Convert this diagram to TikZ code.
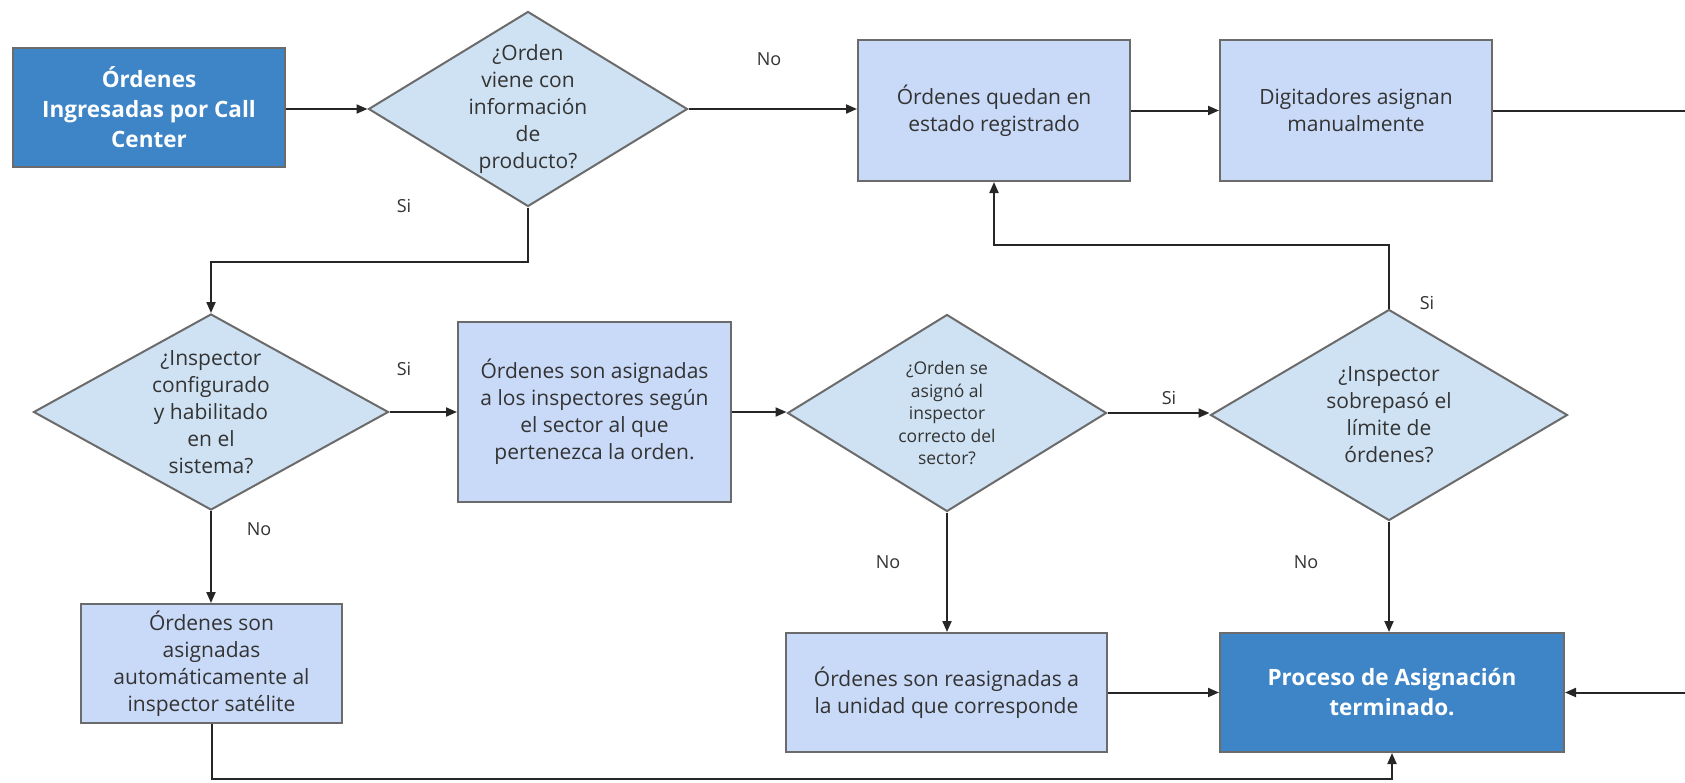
\documentclass[tikz,border=0pt]{standalone}
\usepackage{fontspec}
\setmainfont{Open Sans}
\usetikzlibrary{shapes.geometric,arrows.meta,calc}
\definecolor{darkbox}{HTML}{3D85C6}
\definecolor{lightbox}{HTML}{C9DAF8}
\definecolor{diafill}{HTML}{CFE2F3}
\definecolor{bordergray}{HTML}{6B6B6B}
\definecolor{linecol}{HTML}{262626}
\definecolor{textcol}{HTML}{333333}
\begin{document}
\begin{tikzpicture}[x=1pt,y=-1pt,
  procbox/.style={draw=bordergray,line width=2pt,fill=lightbox,inner sep=0pt,align=center,
    text=textcol,font=\fontsize{21}{27}\selectfont},
  endbox/.style={draw=bordergray,line width=2pt,fill=darkbox,inner sep=0pt,align=center,
    text=white,font=\fontsize{22.5}{30}\selectfont\bfseries},
  decision/.style={diamond,draw=bordergray,line width=2pt,fill=diafill,inner sep=0pt},
  dtext/.style={align=center,text=textcol,font=\fontsize{21}{27}\selectfont},
  dsmall/.style={align=center,text=textcol,font=\fontsize{17.5}{22.5}\selectfont},
  arr/.style={draw=linecol,line width=2pt,-{Triangle[length=11pt,width=9pt]}},
  plain/.style={draw=linecol,line width=2pt},
  lbl/.style={text=textcol,font=\fontsize{18}{20}\selectfont,inner sep=0pt}]
\useasboundingbox[fill=white] (0,0) rectangle (1685,782);

% nodes
\node[endbox,minimum width=272pt,minimum height=119pt] (b1) at (149,107.5)
  {Órdenes\\Ingresadas por Call\\Center};
\node[decision,minimum width=319pt,minimum height=195pt,
  label={[dtext]center:{¿Orden\\viene con\\información\\de\\producto?}}] (d1) at (528,109) {};
\node[procbox,minimum width=272pt,minimum height=141pt] (q) at (994,110.5)
  {Órdenes quedan en\\estado registrado};
\node[procbox,minimum width=272pt,minimum height=141pt] (dg) at (1356,110.5)
  {Digitadores asignan\\manualmente};
\node[decision,minimum width=355pt,minimum height=196pt,
  label={[dtext]center:{¿Inspector\\configurado\\y habilitado\\en el\\sistema?}}] (d2) at (211,412) {};
\node[procbox,minimum width=273pt,minimum height=180pt] (b3) at (594.5,412)
  {Órdenes son asignadas\\a los inspectores según\\el sector al que\\pertenezca la orden.};
\node[decision,minimum width=319pt,minimum height=197pt,
  label={[dsmall]center:{¿Orden se\\asignó al\\inspector\\correcto del\\sector?}}] (d3) at (947,413) {};
\node[decision,minimum width=357pt,minimum height=211pt,
  label={[dtext]center:{¿Inspector\\sobrepasó el\\límite de\\órdenes?}}] (d4) at (1389,415) {};
\node[procbox,minimum width=261pt,minimum height=119pt] (b4) at (211.5,663.5)
  {Órdenes son\\asignadas\\automáticamente al\\inspector satélite};
\node[procbox,minimum width=321pt,minimum height=119pt] (b5) at (946.5,692.5)
  {Órdenes son reasignadas a\\la unidad que corresponde};
\node[endbox,minimum width=344pt,minimum height=119pt] (pr) at (1392,692.5)
  {Proceso de Asignación\\terminado.};

\coordinate (outtop) at (1685,110.5);
\coordinate (outbot) at (1685,692.5);

% connectors
\draw[arr] (b1.east |- d1.west) -- (d1.west);
\draw[arr] (d1.east) -- (d1.east -| q.west);
\draw[arr] (q.east) -- (dg.west);
\draw[plain] (dg.east) -- (outtop);
\draw[arr] (d1.south) -- ++(0,54) -| (d2.north);
\draw[arr] (d2.east) -- (d2.east -| b3.west);
\draw[arr] (b3.east) -- (b3.east -| d3.west);
\draw[arr] (d3.east) -- (d3.east -| d4.west);
\draw[arr] (d4.north) -- ++(0,-64) -| (q.south);
\draw[arr] (d2.south) -- (d2.south |- b4.north);
\draw[arr] (d3.south) -- (d3.south |- b5.north);
\draw[arr] (d4.south) -- (d4.south |- pr.north);
\draw[arr] (b5.east) -- (pr.west);
\draw[arr] (b4.south) -- ++(0,55) -| (pr.south);
\draw[arr] (outbot) -- (pr.east);

% labels
\node[lbl] (l1) at (769,59) {No};
\node[lbl] (l2) at (404,206) {Si};
\node[lbl] (l3) at (404,369) {Si};
\node[lbl] (l4) at (259,529) {No};
\node[lbl] (l5) at (1169,398) {Si};
\node[lbl] (l6) at (1427,303) {Si};
\node[lbl] (l7) at (888,562) {No};
\node[lbl] (l8) at (1306,562) {No};
\end{tikzpicture}
\end{document}
